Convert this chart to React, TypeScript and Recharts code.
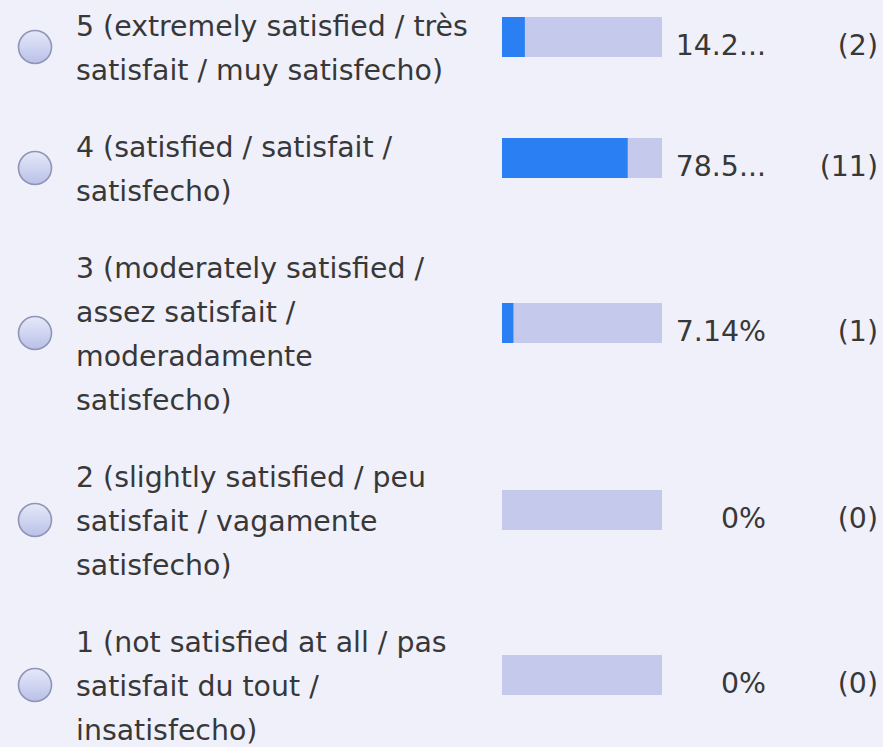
import React from "react";
import { Bar, BarChart, XAxis, YAxis } from "recharts";

const labels: string[][] = [
  ["5 (extremely satisfied / très", "satisfait / muy satisfecho)"],
  ["4 (satisfied / satisfait /", "satisfecho)"],
  ["3 (moderately satisfied /", "assez satisfait /", "moderadamente", "satisfecho)"],
  ["2 (slightly satisfied / peu", "satisfait / vagamente", "satisfecho)"],
  ["1 (not satisfied at all / pas", "satisfait du tout /", "insatisfecho)"],
];
const percents = [14.29, 78.57, 7.14, 0, 0];
const percentText = ["14.2...", "78.5...", "7.14%", "0%", "0%"];
const counts = [2, 11, 1, 0, 0];

const BG = "#f0f0fb";
const TEXT = "#383838";
const FILL = "#2a7ff2";
const TRACK = "#c5caed";

function Radio() {
  return (
    <svg width={40} height={40} style={{ display: "block" }}>
      <defs>
        <linearGradient id="radioFill" x1="0" y1="0" x2="0" y2="1">
          <stop offset="0%" stopColor="#e6e9fa" />
          <stop offset="100%" stopColor="#b9c0e8" />
        </linearGradient>
      </defs>
      <circle cx={20} cy={20} r={16.5} fill="url(#radioFill)" stroke="#8f95b5" strokeWidth={1.6} />
    </svg>
  );
}

/** One answer bar: filled share drawn over the full-width track. */
function ShareBar({ value }: { value: number }) {
  const data = [{ name: "share", value }];
  return (
    <div style={{ width: 160, height: 40, background: TRACK }}>
      <BarChart
        width={160}
        height={40}
        data={data}
        layout="vertical"
        margin={{ top: 0, right: 0, bottom: 0, left: 0 }}
        barCategoryGap={0}
      >
        <XAxis type="number" domain={[0, 100]} hide />
        <YAxis type="category" dataKey="name" hide />
        <Bar dataKey="value" fill={FILL} isAnimationActive={false} />
      </BarChart>
    </div>
  );
}

export default function App() {
  return (
    <div
      style={{
        width: 883,
        height: 747,
        background: BG,
        overflow: "hidden",
        fontFamily: "'DejaVu Sans', sans-serif",
        fontSize: 28.4,
        color: TEXT,
        paddingTop: 5,
        boxSizing: "border-box",
      }}
    >
      <style>{`body{margin:0}`}</style>
      {labels.map((lines, i) => (
        <div
          key={i}
          style={{ display: "flex", alignItems: "center", marginBottom: 33 }}
        >
          <div style={{ width: 76, display: "flex", paddingLeft: 15, boxSizing: "border-box", position: "relative", top: -2 }}>
            <Radio />
          </div>
          <div style={{ width: 426, lineHeight: "44px" }}>
            {lines.map((l, j) => (
              <div key={j} style={{ whiteSpace: "nowrap" }}>{l}</div>
            ))}
          </div>
          <div style={{ position: "relative", top: -12 }}>
            <ShareBar value={percents[i]} />
          </div>
          <div style={{ width: 104, textAlign: "right", position: "relative", top: -4 }}>
            {percentText[i]}
          </div>
          <div style={{ width: 112, textAlign: "right", position: "relative", top: -4 }}>
            ({counts[i]})
          </div>
        </div>
      ))}
    </div>
  );
}
